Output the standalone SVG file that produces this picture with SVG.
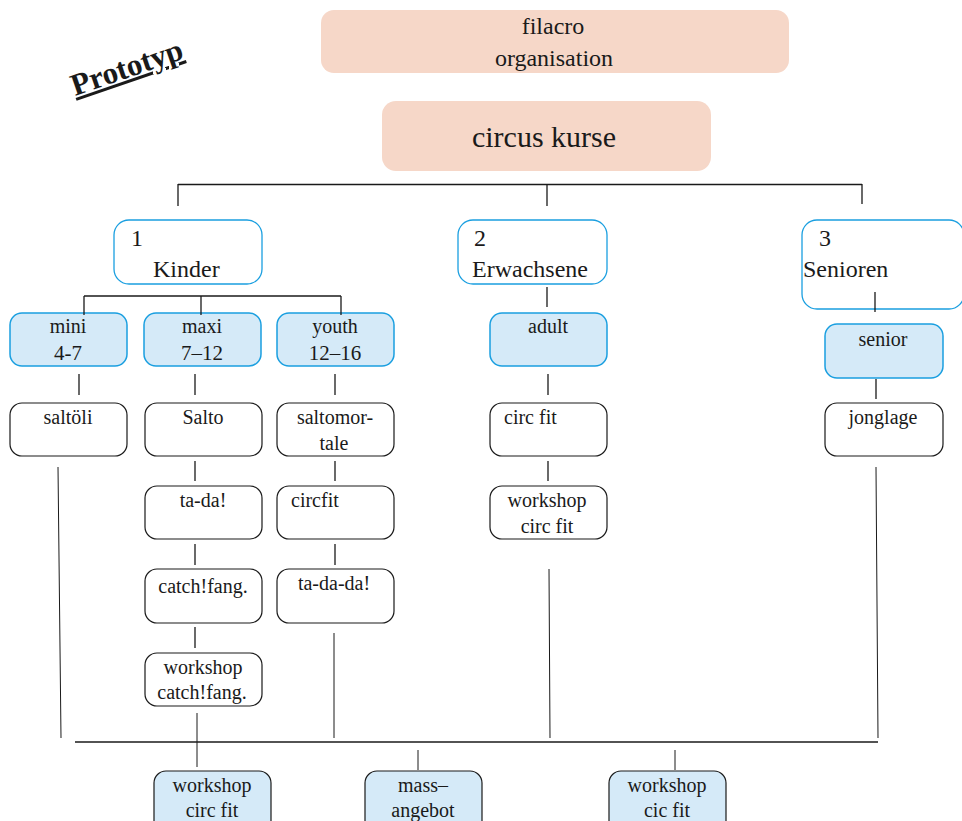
<svg xmlns="http://www.w3.org/2000/svg" width="962" height="821" viewBox="0 0 962 821">
<style>
text{font-family:"Liberation Serif","Times New Roman",serif;fill:#1a1a1a}
.peach{fill:#f6d7c8;stroke:none}
.grp{fill:#fff;stroke:#1a9fe0;stroke-width:1.3}
.cat{fill:#d5eaf8;stroke:#1a9fe0;stroke-width:1.5}
.item{fill:#fff;stroke:#1a1a1a;stroke-width:1.2}
.bot{fill:#d5eaf8;stroke:#1a1a1a;stroke-width:1.2}
.c{text-anchor:middle}
.t20{font-size:20px}
.t21{font-size:21px}
.t24{font-size:24px}
.conn line{stroke:#1a1a1a;stroke-width:1.3}
</style>
<rect width="962" height="821" fill="#fff"/>

<text x="75" y="96" transform="rotate(-19 75 96)" font-size="31" font-weight="bold" text-decoration="underline">Prototyp</text>

<g id="filacro">
<rect class="peach" x="321" y="10" width="468" height="63" rx="13"/>
<text class="c t24" x="553" y="34">filacro</text>
<text class="c t24" x="554" y="66">organisation</text>
</g>
<g id="circus">
<rect class="peach" x="382" y="101" width="329" height="70" rx="14"/>
<text class="c" x="544" y="147" font-size="30">circus kurse</text>
</g>

<g id="kinder">
<rect class="grp" x="114" y="220" width="148" height="64" rx="15"/>
<text class="t24" x="131" y="246">1</text>
<text class="t24" x="153" y="277">Kinder</text>
</g>
<g id="erwachsene">
<rect class="grp" x="458" y="220" width="149" height="64" rx="15"/>
<text class="t24" x="474" y="246">2</text>
<text class="t24" x="472" y="277">Erwachsene</text>
</g>
<g id="senioren">
<rect class="grp" x="802" y="220" width="162" height="89" rx="15"/>
<text class="t24" x="819" y="246">3</text>
<text class="t24" x="803" y="277">Senioren</text>
</g>

<g id="mini">
<rect class="cat" x="10" y="313" width="117" height="53" rx="12"/>
<text class="c t20" x="68" y="333">mini</text>
<text class="c t21" x="68" y="360">4-7</text>
</g>
<g id="maxi">
<rect class="cat" x="144" y="313" width="117" height="53" rx="12"/>
<text class="c t20" x="202" y="333">maxi</text>
<text class="c t21" x="202" y="360">7–12</text>
</g>
<g id="youth">
<rect class="cat" x="277" y="313" width="117" height="53" rx="12"/>
<text class="c t20" x="335" y="333">youth</text>
<text class="c t21" x="335" y="360">12–16</text>
</g>
<g id="adult">
<rect class="cat" x="490" y="313" width="117" height="53" rx="12"/>
<text class="c t20" x="548" y="333">adult</text>
</g>
<g id="senior">
<rect class="cat" x="825" y="324" width="118" height="54" rx="12"/>
<text class="c t20" x="883" y="346">senior</text>
</g>

<g id="saltoeli">
<rect class="item" x="10" y="403" width="117" height="53" rx="12"/>
<text class="c t20" x="68" y="424">saltöli</text>
</g>
<g id="salto">
<rect class="item" x="145" y="403" width="117" height="53" rx="12"/>
<text class="c t20" x="203" y="424">Salto</text>
</g>
<g id="saltomortale">
<rect class="item" x="277" y="403" width="117" height="53" rx="12"/>
<text class="c t20" x="335" y="424">saltomor-</text>
<text class="c t20" x="334" y="450">tale</text>
</g>
<g id="circfit-adult">
<rect class="item" x="490" y="403" width="117" height="53" rx="12"/>
<text class="t20" x="504" y="424">circ fit</text>
</g>
<g id="jonglage">
<rect class="item" x="825" y="403" width="118" height="53" rx="12"/>
<text class="c t20" x="883" y="424">jonglage</text>
</g>

<g id="tada">
<rect class="item" x="145" y="486" width="117" height="53" rx="12"/>
<text class="c t20" x="203" y="507">ta-da!</text>
</g>
<g id="circfit-youth">
<rect class="item" x="277" y="486" width="117" height="53" rx="12"/>
<text class="t20" x="291" y="507">circfit</text>
</g>
<g id="workshop-circfit-adult">
<rect class="item" x="490" y="486" width="117" height="53" rx="12"/>
<text class="c t20" x="547" y="507">workshop</text>
<text class="c t20" x="547" y="533">circ fit</text>
</g>

<g id="catchfang">
<rect class="item" x="145" y="569" width="117" height="54" rx="12"/>
<text class="c t20" x="203" y="593">catch!fang.</text>
</g>
<g id="tadada">
<rect class="item" x="277" y="569" width="117" height="54" rx="12"/>
<text class="c t20" x="334" y="590">ta-da-da!</text>
</g>

<g id="workshop-catchfang">
<rect class="item" x="145" y="653" width="117" height="53" rx="12"/>
<text class="c t20" x="203" y="674">workshop</text>
<text class="c t20" x="202" y="699">catch!fang.</text>
</g>

<g id="bottom-workshop-circfit">
<rect class="bot" x="154" y="771" width="117" height="62" rx="12"/>
<text class="c t20" x="212" y="792">workshop</text>
<text class="c t20" x="212" y="817">circ fit</text>
</g>
<g id="bottom-massangebot">
<rect class="bot" x="365" y="771" width="117" height="62" rx="12"/>
<text class="c t20" x="423" y="792">mass–</text>
<text class="c t20" x="423" y="817">angebot</text>
</g>
<g id="bottom-workshop-cicfit">
<rect class="bot" x="609" y="771" width="117" height="62" rx="12"/>
<text class="c t20" x="667" y="792">workshop</text>
<text class="c t20" x="667" y="817">cic fit</text>
</g>

<g id="connectors" class="conn">
<line x1="178" y1="184.5" x2="862" y2="184.5"/>
<line x1="178" y1="184" x2="178" y2="206"/>
<line x1="547" y1="184" x2="547" y2="206"/>
<line x1="862" y1="184" x2="862" y2="204"/>
<line x1="84" y1="296" x2="341" y2="296"/>
<line x1="84" y1="296" x2="84" y2="315"/>
<line x1="201" y1="296" x2="201" y2="315"/>
<line x1="341" y1="296" x2="341" y2="315"/>
<line x1="547" y1="287" x2="547" y2="307"/>
<line x1="875" y1="292" x2="875" y2="312"/>
<line x1="79" y1="374" x2="79" y2="395"/>
<line x1="195" y1="374" x2="195" y2="395"/>
<line x1="335" y1="374" x2="335" y2="395"/>
<line x1="548" y1="374" x2="548" y2="395"/>
<line x1="876" y1="379" x2="876" y2="399"/>
<line x1="195" y1="461" x2="195" y2="481"/>
<line x1="335" y1="461" x2="335" y2="481"/>
<line x1="548" y1="461" x2="548" y2="481"/>
<line x1="195" y1="544" x2="195" y2="565"/>
<line x1="335" y1="544" x2="335" y2="565"/>
<line x1="195" y1="627" x2="195" y2="648"/>
<line x1="58" y1="467" x2="61" y2="738" style="stroke-width:1"/>
<line x1="334" y1="633" x2="334" y2="738" style="stroke-width:1"/>
<line x1="549" y1="569" x2="550" y2="738" style="stroke-width:1"/>
<line x1="876" y1="467" x2="878" y2="738" style="stroke-width:1"/>
<line x1="75" y1="742" x2="878" y2="742"/>
<line x1="197" y1="713" x2="197" y2="767" style="stroke-width:1"/>
<line x1="418" y1="750" x2="418" y2="770" style="stroke-width:1"/>
<line x1="675" y1="750" x2="675" y2="770" style="stroke-width:1"/>
</g>
</svg>
